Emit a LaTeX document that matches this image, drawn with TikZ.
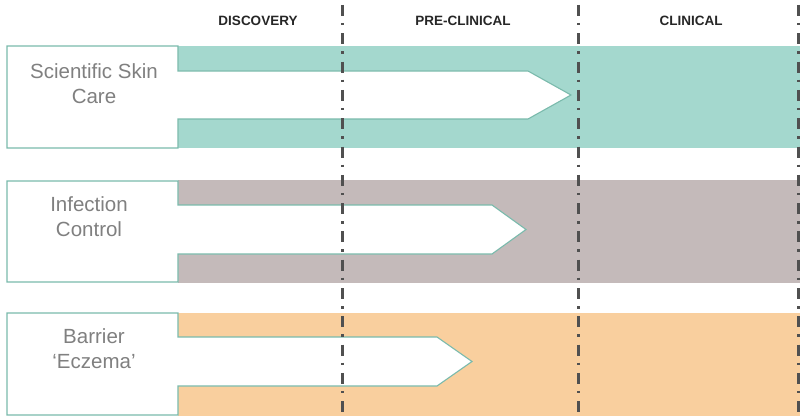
\documentclass[tikz,border=0pt]{standalone}
\usepackage{fontspec}
\setmainfont{Liberation Sans}
\definecolor{verde}{RGB}{164,216,206}
\definecolor{malva}{RGB}{196,186,186}
\definecolor{naranja}{RGB}{249,207,158}
\definecolor{borde}{RGB}{122,186,172}
\definecolor{texto}{RGB}{128,128,128}
\definecolor{linea}{RGB}{80,80,80}
\tikzset{
  fase/.style={font=\fontsize{13.5}{16}\selectfont\bfseries, text=black!85},
  etiqueta/.style={font=\fontsize{20.5}{25}\selectfont, text=texto, align=center},
  flecha/.style={draw=borde, line width=1.1pt, fill=white},
  limite/.style={draw=linea, line width=3pt, dash pattern=on 11pt off 7pt on 2.5pt off 7.8pt, dash phase=-5pt},
}
\begin{document}
\begin{tikzpicture}[x=1pt, y=-1pt]
    \useasboundingbox (0,0) rectangle (800,417);
    % Fases
    \node[fase] (disc) at (258,21) {DISCOVERY};
    \node[fase] (prec) at (463,21) {PRE-CLINICAL};
    \node[fase] (clin) at (691,21) {CLINICAL};
    % Barras
    \fill[verde] (178,46) rectangle (800,148);
    \fill[malva] (178,180) rectangle (800,283);
    \fill[naranja] (178,313) rectangle (800,416);
    % Flechas
    \draw[flecha] (7,46) -- (178,46) -- (178,71) -- (528,71) -- (571,95) -- (528,119) -- (178,119) -- (178,148) -- (7,148) -- cycle;
    \draw[flecha] (7,181) -- (178,181) -- (178,205) -- (492,205) -- (526,229.5) -- (492,254) -- (178,254) -- (178,282) -- (7,282) -- cycle;
    \draw[flecha] (7,313) -- (178,313) -- (178,337) -- (437,337) -- (472,361.5) -- (437,386) -- (178,386) -- (178,415) -- (7,415) -- cycle;
    % Etiquetas
    \node[etiqueta] (piel) at (94,84) {Scientific Skin\\Care};
    \node[etiqueta] (infe) at (89,217) {Infection\\Control};
    \node[etiqueta] (barr) at (94,349) {Barrier\\`Eczema'};
    % Limites
    \draw[limite] (342,0) -- (342,417);
    \draw[limite] (578,0) -- (578,417);
    \draw[limite] (798,0) -- (798,417);
\end{tikzpicture}
\end{document}
